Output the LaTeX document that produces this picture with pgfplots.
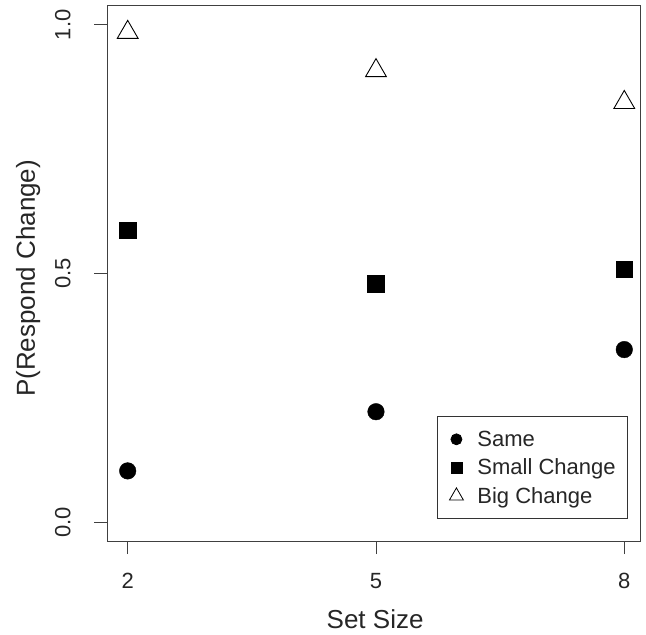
\documentclass[border=0pt]{standalone}
\usepackage{pgfplots}
\pgfplotsset{compat=1.18}
\usepackage{fontspec}
\setmainfont{Liberation Sans}
\begin{document}
\begin{tikzpicture}
\begin{axis}[
  name=ax,
  scale only axis,
  width=533pt, height=536pt,
  xmin=1.75, xmax=8.19,
  ymin=-0.038, ymax=1.04,
  xtick={2,5,8}, ytick={0,0.5,1},
  yticklabels={0.0,0.5,1.0},
  axis line style={draw=black!75, line width=0.9pt},
  tick style={draw=black!75, line width=0.9pt},
  tick align=outside,
  major tick length=13pt,
  xtick pos=bottom, ytick pos=left,
  /pgf/number format/assume math mode=true,
  tick label style={font=\fontsize{22}{26}\selectfont, text=black!85},
  yticklabel style={xshift=-20pt, rotate=90, anchor=south},
  xticklabel style={yshift=-16pt},
  xlabel={Set Size}, ylabel={P(Respond Change)},
  label style={font=\fontsize{26}{30}\selectfont, text=black!85},
  xlabel style={at={(axis description cs:0.503,-0.146)}, anchor=center},
  ylabel style={at={(axis description cs:-0.148,0.49)}, anchor=center, rotate=0},
  legend style={at={(0.9775,0.041)}, anchor=south east, draw=black!80,
    line width=0.8pt, font=\fontsize{22}{26}\selectfont, text=black!85,
    inner xsep=10pt, inner ysep=12pt, row sep=7pt},
  legend cell align=left,
  legend image code/.code={\path[draw=none,fill=none] (0pt,0pt) -- (28pt,0pt); \draw[#1] plot coordinates {(9pt,0pt)};},
]
\addlegendimage{only marks, mark=*, mark size=5.5pt, black}
\addlegendentry{Same}
\addlegendimage{only marks, mark=square*, mark size=5.5pt, black}
\addlegendentry{Small Change}
\addlegendimage{only marks, mark=triangle, mark size=8pt, black, line width=0.8pt}
\addlegendentry{Big Change}
\addplot[forget plot, only marks, mark=*, mark size=8.3pt, black] coordinates {(2,0.103) (5,0.222) (8,0.347)};
\addplot[forget plot, only marks, mark=square*, mark size=8.3pt, black] coordinates {(2,0.587) (5,0.480) (8,0.509)};
\addplot[forget plot, only marks, mark=triangle, mark size=12pt, black, line width=0.9pt] coordinates {(2,0.985) (5,0.908) (8,0.844)};
\end{axis}
\pgfresetboundingbox
\path ([shift={(-107pt,-93pt)}]ax.south west) rectangle ([shift={(6pt,5pt)}]ax.north east);
\end{tikzpicture}
\end{document}
